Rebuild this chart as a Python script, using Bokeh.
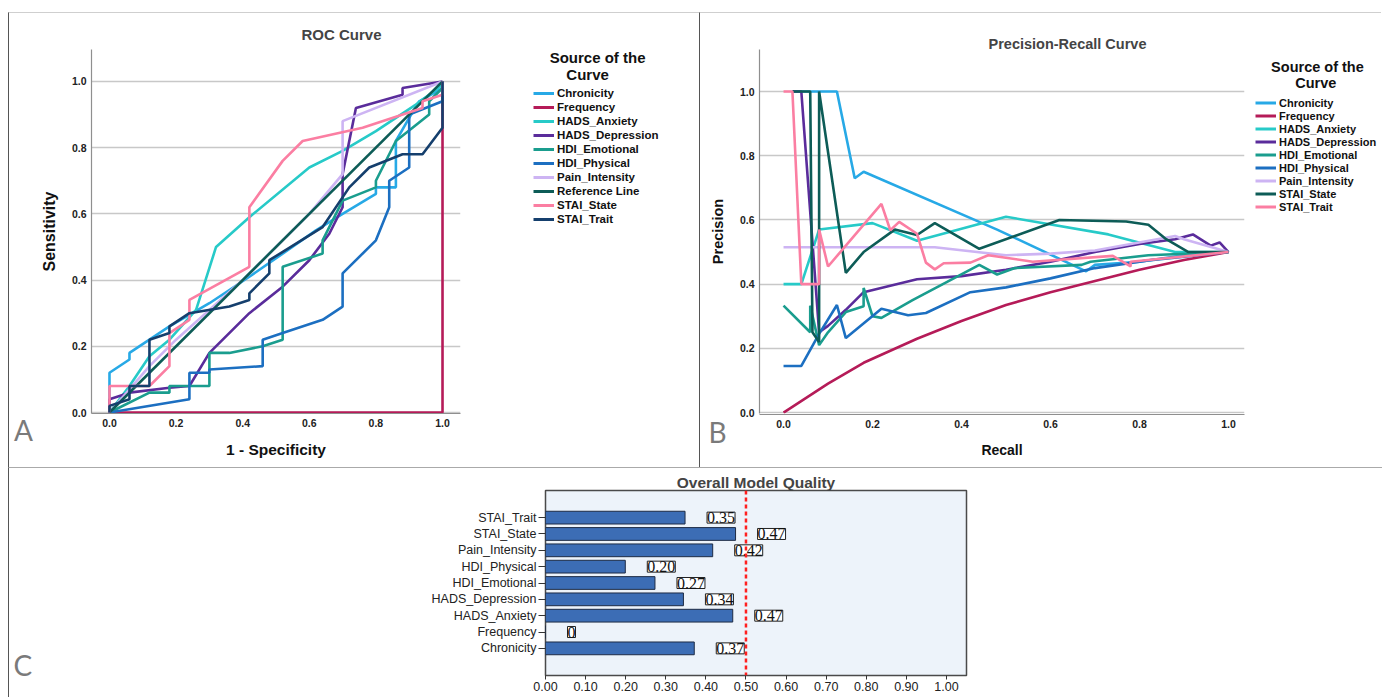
from bokeh.plotting import figure
from bokeh.models import (Range1d, FactorRange, Legend, LegendItem, Label, LabelSet, Title,
                          ColumnDataSource, FixedTicker, PrintfTickFormatter, Span)
from bokeh.layouts import column, row
from bokeh.embed import file_html
from bokeh.resources import INLINE

# ---------------- ROC data (1 - Specificity, Sensitivity) ----------------
roc_chronicity_x = [0, 0, 0.06, 0.06, 0.12, 0.18, 0.30, 0.42, 0.52, 0.62, 0.70, 0.80, 0.80, 0.86, 0.86, 0.90, 0.93, 1.0, 1.0]
roc_chronicity_y = [0, 0.12, 0.16, 0.18, 0.22, 0.26, 0.33, 0.41, 0.48, 0.55, 0.60, 0.66, 0.68, 0.68, 0.82, 0.89, 0.94, 0.98, 1.0]
roc_frequency_x = [0, 1.0, 1.0]
roc_frequency_y = [0, 0, 1.0]
roc_hads_anxiety_x = [0, 0.06, 0.12, 0.18, 0.26, 0.32, 0.42, 0.60, 0.70, 0.80, 0.92, 1.0, 1.0]
roc_hads_anxiety_y = [0, 0.08, 0.17, 0.22, 0.31, 0.50, 0.59, 0.74, 0.79, 0.85, 0.93, 0.99, 1.0]
roc_hads_depression_x = [0, 0, 0.06, 0.18, 0.24, 0.30, 0.42, 0.52, 0.60, 0.66, 0.70, 0.70, 0.74, 0.88, 0.88, 1.0]
roc_hads_depression_y = [0, 0.04, 0.06, 0.075, 0.08, 0.18, 0.30, 0.38, 0.46, 0.54, 0.62, 0.72, 0.92, 0.96, 0.98, 1.0]
roc_hdi_emotional_x = [0, 0.12, 0.18, 0.18, 0.30, 0.30, 0.36, 0.46, 0.52, 0.52, 0.64, 0.64, 0.70, 0.80, 0.80, 0.86, 0.96, 0.96, 1.0, 1.0]
roc_hdi_emotional_y = [0, 0.06, 0.06, 0.08, 0.08, 0.18, 0.18, 0.20, 0.22, 0.44, 0.48, 0.52, 0.64, 0.68, 0.70, 0.82, 0.90, 0.94, 0.98, 1.0]
roc_hdi_physical_x = [0, 0.24, 0.24, 0.30, 0.30, 0.46, 0.46, 0.52, 0.64, 0.70, 0.70, 0.80, 0.84, 0.84, 0.90, 0.90, 1.0, 1.0]
roc_hdi_physical_y = [0, 0.04, 0.12, 0.12, 0.13, 0.14, 0.22, 0.24, 0.28, 0.32, 0.42, 0.52, 0.62, 0.70, 0.74, 0.90, 0.94, 1.0]
roc_pain_intensity_x = [0, 0.06, 0.12, 0.20, 0.30, 0.40, 0.50, 0.60, 0.70, 0.70, 1.0]
roc_pain_intensity_y = [0, 0.07, 0.14, 0.22, 0.31, 0.40, 0.50, 0.60, 0.72, 0.88, 1.0]
roc_reference_x = [0, 1.0]
roc_reference_y = [0, 1.0]
roc_stai_state_x = [0, 0, 0.12, 0.18, 0.18, 0.24, 0.24, 0.42, 0.42, 0.52, 0.58, 0.76, 0.94, 0.94, 1.0, 1.0]
roc_stai_state_y = [0, 0.08, 0.08, 0.14, 0.24, 0.28, 0.34, 0.44, 0.62, 0.76, 0.82, 0.86, 0.92, 0.94, 0.96, 1.0]
roc_stai_trait_x = [0, 0, 0.06, 0.06, 0.12, 0.12, 0.18, 0.18, 0.24, 0.36, 0.42, 0.42, 0.48, 0.48, 0.64, 0.72, 0.78, 0.88, 0.94, 1.0, 1.0]
roc_stai_trait_y = [0, 0.02, 0.04, 0.08, 0.08, 0.22, 0.24, 0.26, 0.30, 0.32, 0.34, 0.36, 0.42, 0.46, 0.56, 0.68, 0.74, 0.78, 0.78, 0.86, 1.0]

roc_names = ["Chronicity", "Frequency", "HADS_Anxiety", "HADS_Depression", "HDI_Emotional",
             "HDI_Physical", "Pain_Intensity", "Reference Line", "STAI_State", "STAI_Trait"]

# ---------------- Precision-Recall data (Recall, Precision) ----------------
pr_chronicity_r = [0.02, 0.12, 0.16, 0.18, 0.48, 0.68, 0.70, 0.80, 0.90, 1.0]
pr_chronicity_p = [1.0, 1.0, 0.73, 0.75, 0.57, 0.44, 0.46, 0.47, 0.49, 0.50]
pr_frequency_r = [0, 0.05, 0.10, 0.18, 0.22, 0.30, 0.40, 0.50, 0.60, 0.70, 0.80, 0.90, 1.0]
pr_frequency_p = [0, 0.045, 0.09, 0.155, 0.18, 0.23, 0.285, 0.335, 0.375, 0.41, 0.445, 0.475, 0.50]
pr_hads_anxiety_r = [0, 0.04, 0.08, 0.20, 0.30, 0.50, 0.73, 0.88, 1.0]
pr_hads_anxiety_p = [0.40, 0.40, 0.57, 0.59, 0.535, 0.61, 0.555, 0.50, 0.50]
pr_hads_depression_r = [0.02, 0.04, 0.08, 0.10, 0.14, 0.18, 0.24, 0.30, 0.40, 0.50, 0.60, 0.70, 0.80, 0.88, 0.92, 0.96, 0.98, 1.0]
pr_hads_depression_p = [1.0, 1.0, 0.25, 0.27, 0.32, 0.375, 0.395, 0.415, 0.425, 0.445, 0.47, 0.50, 0.525, 0.54, 0.555, 0.52, 0.53, 0.50]
pr_hdi_emotional_r = [0, 0.06, 0.06, 0.08, 0.10, 0.14, 0.18, 0.18, 0.20, 0.22, 0.29, 0.44, 0.48, 0.52, 0.67, 0.69, 0.82, 1.0]
pr_hdi_emotional_p = [0.333, 0.25, 0.333, 0.21, 0.25, 0.313, 0.331, 0.388, 0.30, 0.295, 0.35, 0.46, 0.43, 0.45, 0.46, 0.47, 0.49, 0.50]
pr_hdi_physical_r = [0, 0.04, 0.08, 0.12, 0.14, 0.22, 0.28, 0.32, 0.42, 0.50, 0.60, 0.70, 0.82, 1.0]
pr_hdi_physical_p = [0.145, 0.145, 0.245, 0.335, 0.232, 0.323, 0.303, 0.31, 0.375, 0.39, 0.418, 0.45, 0.474, 0.50]
pr_pain_intensity_r = [0, 0.34, 0.50, 0.60, 0.70, 0.88, 0.90, 1.0]
pr_pain_intensity_p = [0.515, 0.515, 0.49, 0.495, 0.505, 0.55, 0.54, 0.50]
pr_stai_state_r = [0.02, 0.06, 0.065, 0.08, 0.08, 0.14, 0.18, 0.25, 0.30, 0.34, 0.44, 0.62, 0.77, 0.82, 0.86, 0.91, 0.95, 1.0]
pr_stai_state_p = [1.0, 1.0, 0.25, 0.22, 1.0, 0.435, 0.50, 0.57, 0.553, 0.59, 0.51, 0.60, 0.595, 0.585, 0.54, 0.50, 0.50, 0.50]
pr_stai_trait_r = [0, 0.02, 0.04, 0.08, 0.08, 0.10, 0.22, 0.24, 0.26, 0.30, 0.32, 0.34, 0.36, 0.42, 0.46, 0.56, 0.74, 0.78, 0.78, 1.0]
pr_stai_trait_p = [1.0, 1.0, 0.40, 0.40, 0.57, 0.455, 0.65, 0.568, 0.594, 0.557, 0.467, 0.446, 0.465, 0.467, 0.49, 0.47, 0.488, 0.455, 0.47, 0.50]

pr_names = ["Chronicity", "Frequency", "HADS_Anxiety", "HADS_Depression", "HDI_Emotional",
            "HDI_Physical", "Pain_Intensity", "STAI_State", "STAI_Trait"]

# ---------------- Overall model quality ----------------
quality_cats = ["Chronicity", "Frequency", "HADS_Anxiety", "HADS_Depression", "HDI_Emotional",
                "HDI_Physical", "Pain_Intensity", "STAI_State", "STAI_Trait"]
quality_vals = [0.371, 0.0, 0.467, 0.344, 0.273, 0.199, 0.417, 0.474, 0.348]
quality_text = ["0.37", "0", "0.47", "0.34", "0.27", "0.20", "0.42", "0.47", "0.35"]
quality_threshold = 0.5

roc_ticks = [0.0, 0.2, 0.4, 0.6, 0.8, 1.0]
quality_ticks = [0.0, 0.1, 0.2, 0.3, 0.4, 0.5, 0.6, 0.7, 0.8, 0.9, 1.0]

# ---------------- styles ----------------
C_CHRON = "#27a9e6"
C_FREQ = "#b51b58"
C_ANX = "#27cac8"
C_DEP = "#5a2c9b"
C_EMO = "#1a9d8e"
C_PHYS = "#1c6fc1"
C_PAIN = "#cdb4f3"
C_DTEAL = "#0d5c57"
C_PINK = "#fb7ea2"
C_NAVY = "#153f6d"
FONT = "Liberation Sans"
NB = "\u00a0"
TOP_B, BOT_B = 36, 55   # shared top/bottom borders of the upper row

roc_colors = [C_CHRON, C_FREQ, C_ANX, C_DEP, C_EMO, C_PHYS, C_PAIN, C_DTEAL, C_PINK, C_NAVY]
pr_colors = [C_CHRON, C_FREQ, C_ANX, C_DEP, C_EMO, C_PHYS, C_PAIN, C_DTEAL, C_PINK]


def style_curve_axes(p, xlabel, ylabel, xl_size, yl_size):
    p.xgrid.visible = False
    p.ygrid.grid_line_color = "#c8c8c8"
    p.ygrid.grid_line_width = 1.3
    p.outline_line_color = None
    p.xaxis.axis_label = xlabel
    p.yaxis.axis_label = ylabel
    for ax, sz in ((p.xaxis[0], xl_size), (p.yaxis[0], yl_size)):
        ax.ticker = FixedTicker(ticks=roc_ticks)
        ax.formatter = PrintfTickFormatter(format="%.1f")
        ax.axis_line_color = "#8f8f8f"
        ax.axis_line_width = 1.2
        ax.major_tick_line_color = None
        ax.minor_tick_line_color = None
        ax.major_tick_out = 0
        ax.major_tick_in = 0
        ax.minor_tick_out = 0
        ax.major_label_standoff = 5
        ax.major_label_text_font = FONT
        ax.major_label_text_font_size = "10.5px"
        ax.major_label_text_font_style = "bold"
        ax.major_label_text_color = "#222222"
        ax.axis_label_text_font = FONT
        ax.axis_label_text_font_size = sz
        ax.axis_label_text_font_style = "bold"
        ax.axis_label_text_color = "#111111"
        ax.axis_label_standoff = 11


def legend_panel(width, names, xs_list, ys_list, colors, loc, title, title_size,
                 label_size, item_h, title_gap, border_right):
    # the series are drawn again here, out of this panel's view, so that the legend has swatches
    f = figure(width=width, height=455, x_range=Range1d(10, 11), y_range=Range1d(10, 11),
               x_axis_location=None, y_axis_location=None, output_backend="svg",
               toolbar_location=None, min_border_left=0, min_border_right=0,
               min_border_top=TOP_B, min_border_bottom=BOT_B)
    f.grid.visible = False
    f.outline_line_color = None
    st = {"border-top": "1px solid #cfcfcf"}
    if border_right:
        st["border-right"] = "1px solid #555555"
    f.styles = st
    items = []
    for n, xs, ys, c in zip(names, xs_list, ys_list, colors):
        r = f.line(xs, ys, line_color=c, line_width=3)
        items.append(LegendItem(label=n, renderers=[r]))
    leg = Legend(items=items, location=loc, padding=0, margin=0, spacing=0,
                 glyph_width=21, glyph_height=item_h, label_height=item_h, label_standoff=3,
                 label_text_font=FONT, label_text_font_size=label_size, label_text_font_style="bold",
                 label_text_color="#111111", border_line_color=None, background_fill_alpha=0,
                 title=title, title_text_font=FONT, title_text_font_size=title_size,
                 title_text_font_style="bold", title_text_color="#111111", title_standoff=title_gap)
    f.add_layout(leg)
    return f


# ---------------- ROC figure ----------------
roc = figure(width=506, height=455, x_range=Range1d(-0.054, 1.054), y_range=Range1d(-0.003, 1.0964),
             output_backend="svg", toolbar_location=None,
             min_border_left=82, min_border_right=55, min_border_top=TOP_B, min_border_bottom=BOT_B)
roc.styles = {"border-left": "1px solid #555555", "border-top": "1px solid #cfcfcf"}
style_curve_axes(roc, "1 - Specificity", "Sensitivity", "15.5px", "16px")
roc.title.text = "ROC Curve"
roc.title.align = "left"
roc.title.offset = 210
roc.title.standoff = 14
roc.title.text_font = FONT
roc.title.text_font_size = "15px"
roc.title.text_font_style = "bold"

roc_xs = [roc_chronicity_x, roc_frequency_x, roc_hads_anxiety_x, roc_hads_depression_x, roc_hdi_emotional_x,
          roc_hdi_physical_x, roc_pain_intensity_x, roc_reference_x, roc_stai_state_x, roc_stai_trait_x]
roc_ys = [roc_chronicity_y, roc_frequency_y, roc_hads_anxiety_y, roc_hads_depression_y, roc_hdi_emotional_y,
          roc_hdi_physical_y, roc_pain_intensity_y, roc_reference_y, roc_stai_state_y, roc_stai_trait_y]
for xs, ys, col in zip(roc_xs, roc_ys, roc_colors):
    roc.line(xs, ys, line_color=col, line_width=2.6)
roc.add_layout(Label(x=-0.287, y=-0.054, text="A", text_align="left", text_baseline="middle",
                     text_font="Lato", text_font_size="28px", text_color="#7a7a7a"), "right")

roc_leg_fig = legend_panel(186, roc_names, roc_xs, roc_ys, roc_colors, (19, 187),
                           NB * 4 + "Source of the\n" + NB * 8 + "Curve", "15px", "11.5px", 14, 3, True)

# ---------------- PR figure ----------------
pr = figure(width=548, height=455, x_range=Range1d(-0.054, 1.036), y_range=Range1d(-0.003, 1.131),
            output_backend="svg", toolbar_location=None,
            min_border_left=59, min_border_right=4, min_border_top=TOP_B, min_border_bottom=BOT_B)
pr.styles = {"border-top": "1px solid #cfcfcf"}
style_curve_axes(pr, "Recall", "Precision", "14px", "14.5px")
pr.title.text = "Precision-Recall Curve"
pr.title.align = "left"
pr.title.offset = 229
pr.title.standoff = -5
pr.title.text_font = FONT
pr.title.text_font_size = "14.5px"
pr.title.text_font_style = "bold"

pr_rs = [pr_chronicity_r, pr_frequency_r, pr_hads_anxiety_r, pr_hads_depression_r, pr_hdi_emotional_r,
         pr_hdi_physical_r, pr_pain_intensity_r, pr_stai_state_r, pr_stai_trait_r]
pr_ps = [pr_chronicity_p, pr_frequency_p, pr_hads_anxiety_p, pr_hads_depression_p, pr_hdi_emotional_p,
         pr_hdi_physical_p, pr_pain_intensity_p, pr_stai_state_p, pr_stai_trait_p]
for xs, ys, col in zip(pr_rs, pr_ps, pr_colors):
    pr.line(xs, ys, line_color=col, line_width=2.6)
b_title = Title(text=NB + "\nB", align="left", offset=-51, vertical_align="bottom", standoff=-69,
                text_font="Lato", text_font_size="28px", text_font_style="normal", text_color="#7a7a7a")
pr.below.insert(0, b_title)

pr_leg_fig = legend_panel(133, pr_names, pr_rs, pr_ps, pr_colors, (7, 200),
                          NB * 4 + "Source of the\n" + NB * 10 + "Curve", "14.5px", "11px", 13, 5, False)

# ---------------- Overall model quality ----------------
bar = figure(width=1374, height=230, y_range=FactorRange(factors=quality_cats, range_padding=1.16,
                                                         range_padding_units="absolute"),
             x_range=Range1d(0, 1.05), output_backend="svg", toolbar_location=None,
             min_border_left=536, min_border_right=417, min_border_top=22, min_border_bottom=23)
bar.styles = {"border-top": "1px solid #aaaaaa", "border-left": "1px solid #555555"}
bar.margin = (0, 0, 0, 8)
bar.background_fill_color = "#edf3fa"
bar.outline_line_color = "#4a4a4a"
bar.outline_line_width = 1.5
bar.xgrid.visible = False
bar.ygrid.visible = False
bar.title.text = "Overall Model Quality"
bar.title.align = "center"
bar.title.standoff = 0
bar.title.text_font = FONT
bar.title.text_font_size = "15.5px"
bar.title.text_font_style = "bold"

src = ColumnDataSource(dict(cat=quality_cats, val=quality_vals, txt=quality_text))
bar.hbar(y="cat", right="val", left=0, height=0.78, source=src,
         fill_color="#3c6db5", line_color="#1d2b44", line_width=1)
bar.add_layout(LabelSet(x="val", y="cat", text="txt", source=src, x_offset=22,
                        text_align="left", text_baseline="middle", text_font=FONT,
                        text_font_size="16px", text_color="#111111",
                        background_fill_color="white", border_line_color="#222222",
                        border_line_width=1))
bar.add_layout(Span(location=quality_threshold, dimension="height", line_color="#ff1f1f",
                    line_dash="4 3", line_width=2.5))

xa = bar.xaxis[0]
xa.ticker = FixedTicker(ticks=quality_ticks)
xa.formatter = PrintfTickFormatter(format="%.2f")
xa.axis_line_color = None
xa.major_tick_out = 4
xa.major_tick_in = 0
xa.minor_tick_line_color = None
xa.major_tick_line_color = "#333333"
xa.major_label_standoff = 2
xa.major_label_text_font = FONT
xa.major_label_text_font_size = "12.5px"
xa.major_label_text_color = "#222222"
ya = bar.yaxis[0]
ya.axis_line_color = None
ya.major_tick_out = 7
ya.major_tick_in = 0
ya.major_tick_line_color = "#333333"
ya.major_label_standoff = 2
ya.major_label_text_font = FONT
ya.major_label_text_font_size = "12.5px"
ya.major_label_text_color = "#222222"
bar.add_layout(Label(x=-1.327, y=-0.52, text="C", text_align="left", text_baseline="middle",
                     text_font="Lato", text_font_size="28px", text_color="#7a7a7a"), "left")

top = row(roc, roc_leg_fig, pr, pr_leg_fig)
top.margin = (12, 0, 0, 8)
layout = column(top, bar)
open("out.html", "w").write(file_html(layout, INLINE))
